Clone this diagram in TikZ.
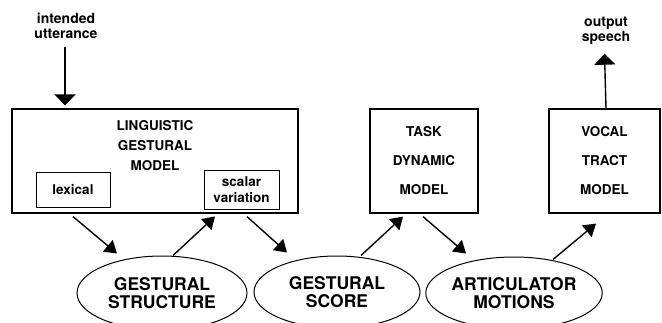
\documentclass[tikz,border=0pt]{standalone}
\usepackage{fontspec}
\setmainfont{TeX Gyre Heros}
\usetikzlibrary{arrows.meta,shapes.geometric}
\begin{document}
\begin{tikzpicture}[x=1pt,y=-1pt,
  box/.style={draw,line width=1.2pt,rectangle,inner sep=0pt},
  subbox/.style={draw,line width=0.9pt,rectangle,inner sep=0pt,
    font=\fontsize{13.5}{15.5}\selectfont\bfseries,align=center},
  title/.style={font=\fontsize{13.5}{20}\selectfont\bfseries,align=center,inner sep=0pt},
  oval/.style={draw,line width=1pt,ellipse,inner sep=0pt,
    font=\fontsize{17.5}{18}\selectfont\bfseries,align=center},
  small/.style={font=\fontsize{14}{14.5}\selectfont\bfseries,align=center,inner sep=0pt},
  arr/.style={line width=1.4pt,-{Triangle[width=15pt,length=12pt]}},
  varr/.style={line width=1.4pt,-{Triangle[width=21pt,length=11pt]}}]
\useasboundingbox (0,0) rectangle (662,322);
\clip (0,0) rectangle (662,322);

% upper row: the three model boxes
\node[box,minimum width=286pt,minimum height=104pt] (lgm) at (155,161) {};
\node[title] (lgmtext) at (155,146) {LINGUISTIC\\GESTURAL\\MODEL};
\node[subbox,minimum width=74pt,minimum height=35pt] (lex) at (73,189.5) {lexical};
\node[subbox,minimum width=75pt,minimum height=39pt] (sv) at (241.5,189.5) {scalar\\variation};

\node[box,minimum width=108pt,minimum height=104pt] (task) at (424,161) {};
\node[title,font=\fontsize{13.5}{29}\selectfont\bfseries] (tasktext) at (424,161) {TASK\\DYNAMIC\\MODEL};

\node[box,minimum width=111pt,minimum height=104pt] (vocal) at (604.5,161) {};
\node[title,font=\fontsize{13.5}{29}\selectfont\bfseries] (vocaltext) at (604.5,161) {VOCAL\\TRACT\\MODEL};

% lower row: the three representations
\node[oval,minimum width=170pt,minimum height=74pt] (gs) at (162,293) {GESTURAL\\STRUCTURE};
\node[oval,minimum width=166pt,minimum height=72pt] (gsc) at (337,292) {GESTURAL\\SCORE};
\node[oval,minimum width=172pt,minimum height=72pt] (am) at (514,293) {ARTICULATOR\\MOTIONS};

% input and output
\node[small] (in) at (66,26) {intended\\utterance};
\node[small] (out) at (606,31) {output\\speech};

\draw[varr] ([xshift=-1pt,yshift=-8pt]in.south) -- ([xshift=-90pt,yshift=3pt]lgm.north);
\draw[varr] ([xshift=1.5pt]vocal.north) -- ([yshift=-9pt]out.south -| vocal.north);

% flow between the two rows
\draw[arr] ([xshift=-82pt,yshift=-3pt]lgm.south) -- ([xshift=-45pt,yshift=2pt]gs.north);
\draw[arr] ([xshift=11pt]gs.north) -- ([xshift=-26.5pt,yshift=-7pt]sv.south);
\draw[arr] ([xshift=92pt,yshift=-3pt]lgm.south) -- ([xshift=-50pt,yshift=3pt]gsc.north);
\draw[arr] ([xshift=24pt]gsc.north) -- ([xshift=-21pt,yshift=-3pt]task.south);
\draw[arr] ([xshift=-1pt,yshift=-3pt]task.south) -- ([xshift=-48pt,yshift=3pt]am.north);
\draw[arr] ([xshift=39pt,yshift=-3pt]am.north) -- ([xshift=-8.5pt,yshift=-10pt]vocal.south);
\end{tikzpicture}
\end{document}
